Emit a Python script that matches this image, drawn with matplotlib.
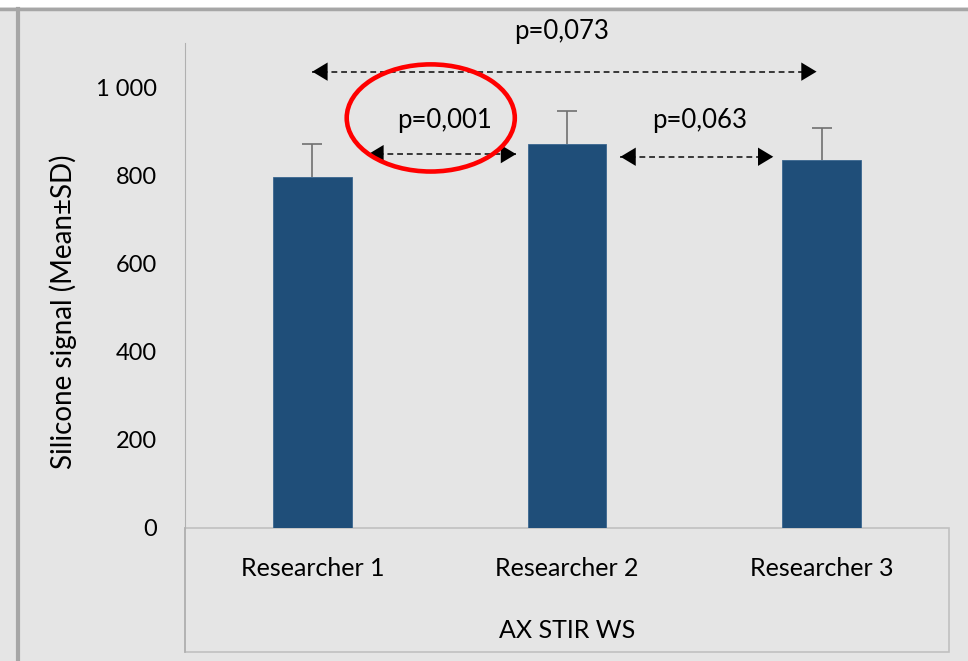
import matplotlib.pyplot as plt
from matplotlib.patches import Ellipse, Rectangle
from matplotlib.lines import Line2D

# Data
researchers = ['Researcher 1', 'Researcher 2', 'Researcher 3']
means = [795, 870, 834]
sds = [77, 75, 74]
y_ticks = [0, 200, 400, 600, 800, 1000]
y_tick_labels = ['0', '200', '400', '600', '800', '1 000']

# p-value comparisons: (from x, to x, arrow y, text x, text y, label)
comparisons = [
    (0.0, 1.98, 1035, 0.98, 1127, 'p=0,073'),
    (0.22, 0.80, 848, 0.52, 925, 'p=0,001'),
    (1.21, 1.81, 842, 1.52, 925, 'p=0,063'),
]

plt.rcParams['font.family'] = ['Lato', 'DejaVu Sans']
bg = '#e5e5e5'
fig = plt.figure(figsize=(9.68, 6.61), dpi=100, facecolor=bg)

# outer frame bits (white strip on top, gray border lines)
fig.add_artist(Rectangle((0, 1 - 7 / 661), 1, 7 / 661, transform=fig.transFigure,
                         facecolor='white', edgecolor='none'))
fig.add_artist(Line2D([0, 1], [1 - 8.5 / 661] * 2, transform=fig.transFigure,
                      color='#a6a6a6', lw=2.5))
fig.add_artist(Line2D([18 / 968] * 2, [0, 1 - 8.5 / 661], transform=fig.transFigure,
                      color='#a6a6a6', lw=3))

ax = fig.add_axes([185 / 968, 133 / 661, 764 / 968, 485 / 661])
ax.set_facecolor(bg)

x = range(len(researchers))
ax.bar(x, means, width=0.31, color='#1f4e79', edgecolor='#3a6690', linewidth=0.6, zorder=2)
_, caps, _ = ax.errorbar(x, means, yerr=[[0] * 3, sds], fmt='none', ecolor='#707070',
                         elinewidth=1.2, capsize=7, capthick=1.2, zorder=1)
caps[0].set_visible(False)

ax.set_xlim(-0.5, 2.5)
ax.set_ylim(0, 1100)
ax.set_yticks(y_ticks)
ax.set_yticklabels(y_tick_labels)
ax.set_xticks([])
ax.tick_params(axis='y', length=0, labelsize=17, pad=20)

for s in ['top', 'right', 'bottom']:
    ax.spines[s].set_visible(False)
ax.spines['left'].set_color('#b0b0b0')
ax.spines['left'].set_bounds(0, 1100)

ax.set_ylabel('Silicone signal (Mean±SD)', fontsize=20)
ax.yaxis.set_label_coords(-0.141, 0.445)

# category box below the plot area
box_h = (652 - 528) / 485
ax.add_patch(Rectangle((0, -box_h), 1, box_h, transform=ax.transAxes,
                       facecolor='none', edgecolor='#c0c0c0', lw=1.2, clip_on=False))
ax.plot([0, 0], [-box_h, 0], transform=ax.transAxes, color='#b0b0b0', lw=1.2, clip_on=False)
for i, name in enumerate(researchers):
    ax.text(i, -(568 - 528) / 0.44, name, ha='center', va='center', fontsize=18, clip_on=False)
ax.text(0.5, -(630 - 528) / 485, 'AX STIR WS', transform=ax.transAxes,
        ha='center', va='center', fontsize=18)

# significance arrows: dashed shaft plus solid heads
for x0, x1, ya, tx, ty, label in comparisons:
    ax.plot([x0, x1], [ya, ya], color='#383838', lw=1.4, linestyle=(0, (3, 2)),
            clip_on=False, zorder=3)
    ax.annotate('', xy=(x1, ya), xytext=(x0, ya),
                arrowprops=dict(arrowstyle='<|-|>,head_length=0.55,head_width=0.33',
                                lw=0, color='black', mutation_scale=20,
                                shrinkA=0, shrinkB=0),
                annotation_clip=False, zorder=4)
    ax.text(tx, ty, label, ha='center', va='center', fontsize=18.5, clip_on=False)

# red highlight around p=0,001
ax.add_patch(Ellipse((0.465, 930), 0.66, 243, facecolor='none', edgecolor='red',
                     lw=3.3, clip_on=False, zorder=5))

fig.savefig('out.png', dpi=100, facecolor=bg)
